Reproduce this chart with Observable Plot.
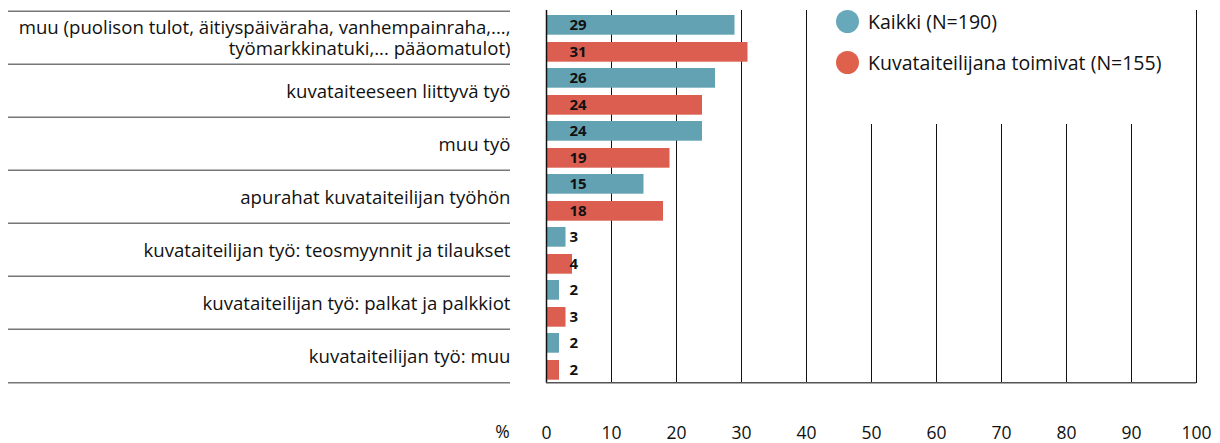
<!DOCTYPE html>
<html>
<head>
<meta charset="utf-8">
<script src="https://cdn.jsdelivr.net/npm/d3@7"></script>
<script src="https://cdn.jsdelivr.net/npm/@observablehq/plot@0.6"></script>
<style>
  body { margin: 0; background: #fff; font-family: "Open Sans", sans-serif; }
  #wrap { position: relative; width: 1220px; height: 443px; }
  #legend { position: absolute; left: 808px; top: 0; width: 386px; height: 124px; background: #fff; }
  .li { position: absolute; left: 28px; height: 24px; display: flex; align-items: center; font-size: 19.5px; color: #111; white-space: nowrap; }
  .dot { width: 23px; height: 23px; border-radius: 50%; margin-right: 9px; }
</style>
</head>
<body>
<div id="wrap"></div>
<script>
const categories = [
  "muu (puolison tulot, äitiyspäiväraha, vanhempainraha,...,\ntyömarkkinatuki,... pääomatulot)",
  "kuvataiteeseen liittyvä työ",
  "muu työ",
  "apurahat kuvataiteilijan työhön",
  "kuvataiteilijan työ: teosmyynnit ja tilaukset",
  "kuvataiteilijan työ: palkat ja palkkiot",
  "kuvataiteilijan työ: muu"
];
const kaikki = [29, 26, 24, 15, 3, 2, 2];
const toimivat = [31, 24, 19, 18, 4, 3, 2];
const seriesNames = ["Kaikki (N=190)", "Kuvataiteilijana toimivat (N=155)"];
const xTicks = [0, 10, 20, 30, 40, 50, 60, 70, 80, 90, 100];

const blue = "#63a2b3", red = "#db5e51";
const legendColors = ["#67a9bb", "#e0614b"];

const dataK = categories.map((c, i) => ({cat: c, value: kaikki[i]}));
const dataT = categories.map((c, i) => ({cat: c, value: toimivat[i]}));

const chart = Plot.plot({
  width: 1220,
  height: 443,
  marginLeft: 546,
  marginRight: 24,
  marginTop: 10,
  marginBottom: 60,
  style: {fontFamily: "'Open Sans', sans-serif", color: "#111", background: "#fff"},
  x: {domain: [0, 100], axis: null},
  y: {domain: categories, padding: 0, axis: null},
  marks: [
    Plot.ruleX(xTicks.slice(1), {stroke: "#111", strokeWidth: 1}),
    Plot.barX(dataK, {x: "value", y: "cat", fill: blue, insetTop: 4, insetBottom: 29.3}),
    Plot.barX(dataT, {x: "value", y: "cat", fill: red, insetTop: 31, insetBottom: 2.3}),
    Plot.ruleX([0], {stroke: "#111", strokeWidth: 1.5}),
    // category separators in the label area
    Plot.ruleY(categories, {y: d => d, dy: -26.65, stroke: "#777", strokeWidth: 1.5, insetLeft: -538, insetRight: 686}),
    Plot.ruleY(categories.slice(-1), {y: d => d, dy: 26.65, stroke: "#777", strokeWidth: 1.5, insetLeft: -538, insetRight: 686}),
    // bottom line of the plot area
    Plot.ruleY(categories.slice(-1), {y: d => d, dy: 26.65, stroke: "#555", strokeWidth: 1.5}),
    Plot.text(categories, {y: d => d, x: 0, dx: -36, text: d => d, textAnchor: "end", fontSize: 18.6, lineHeight: 1.13, fill: "#111"}),
    Plot.text(dataK, {x: 0, y: "cat", text: "value", dx: 23, dy: -12.65, textAnchor: "start", fontSize: 15, fontWeight: "bold", fill: "#111"}),
    Plot.text(dataT, {x: 0, y: "cat", text: "value", dx: 23, dy: 14.35, textAnchor: "start", fontSize: 15, fontWeight: "bold", fill: "#111"}),
    Plot.axisX(xTicks, {tickSize: 0, tickPadding: 43, fontSize: 17.5, label: null}),
    Plot.text(["%"], {x: 0, frameAnchor: "bottom", dy: 54, dx: -44, text: d => d, fontSize: 17.5, fill: "#111"})
  ]
});

const wrap = document.getElementById("wrap");
wrap.appendChild(chart);

const legend = document.createElement("div");
legend.id = "legend";
seriesNames.forEach((name, i) => {
  const item = document.createElement("div");
  item.className = "li";
  item.style.top = (9 + i * 41) + "px";
  const dot = document.createElement("span");
  dot.className = "dot";
  dot.style.background = legendColors[i];
  const label = document.createElement("span");
  label.textContent = name;
  item.appendChild(dot);
  item.appendChild(label);
  legend.appendChild(item);
});
wrap.appendChild(legend);
</script>
</body>
</html>
